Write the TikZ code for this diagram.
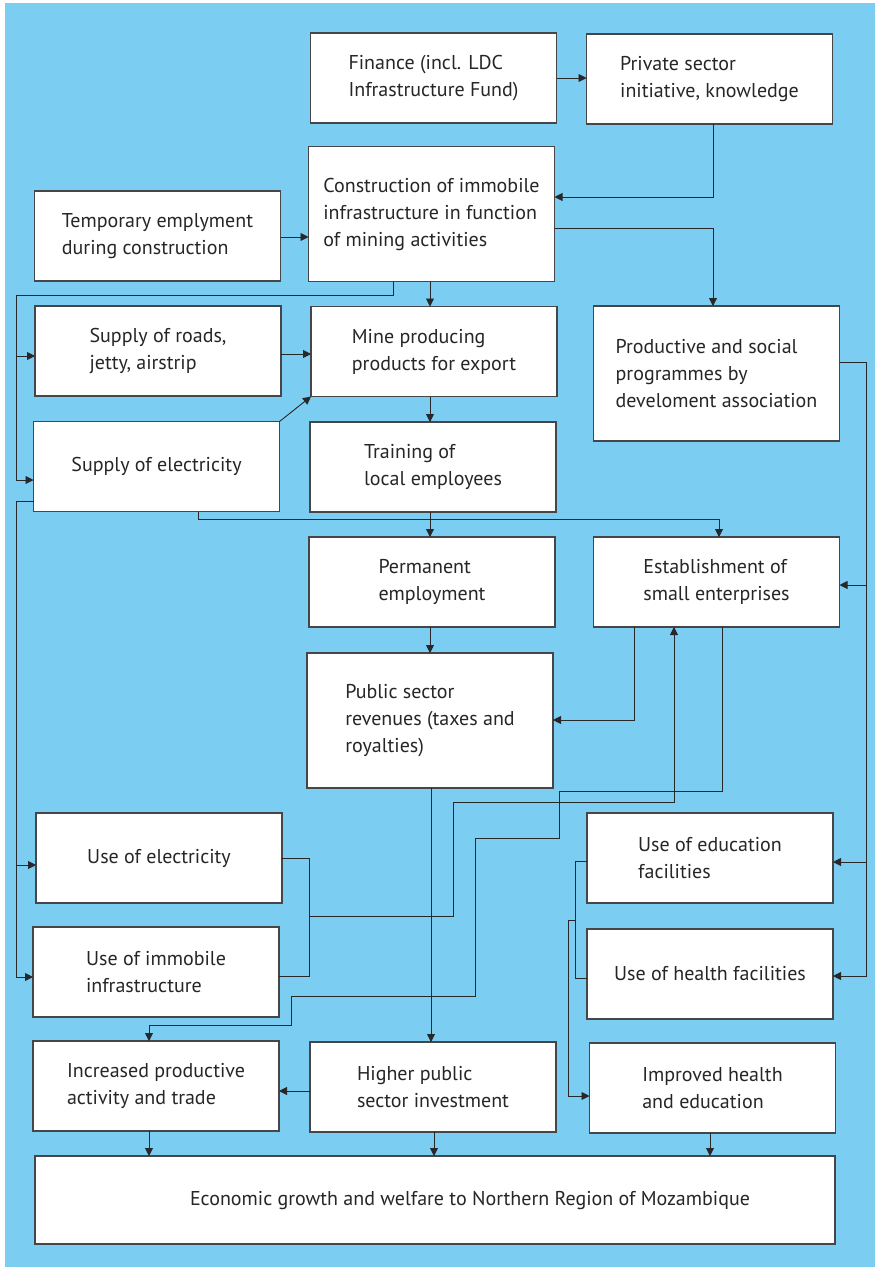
\documentclass[tikz,border=0pt]{standalone}
\usepackage{fontspec}
\setmainfont{PT Sans}
\usetikzlibrary{arrows.meta}
\definecolor{panel}{RGB}{124,205,242}
\definecolor{edge}{RGB}{70,70,72}
\definecolor{wire}{RGB}{40,40,42}
\begin{document}
\begin{tikzpicture}[x=1pt,y=-1pt,
  box/.style={draw=edge,line width=1.1pt,fill=white,inner sep=0pt,outer sep=0pt,
    minimum width=246pt,minimum height=90pt,align=left,
    font=\fontsize{20}{27}\selectfont,text=black!85},
  tall/.style={minimum height=135pt},
  arr/.style={draw=wire,line width=0.9pt,-{Triangle[length=8pt,width=8pt]}},
  ln/.style={draw=wire,line width=0.9pt}]
\useasboundingbox (0,0) rectangle (875,1267);
\fill[white] (0,0) rectangle (875,1267);
\fill[panel] (5,3) rectangle (875,1267);

% boxes
\node[box] (fin)   at (433.5,78)  {Finance (incl. LDC\\Infrastructure Fund)};
\node[box] (priv)  at (709.5,79)  {Private sector\\initiative, knowledge};
\node[box,tall] (cons) at (431.5,214) {Construction of immobile\\infrastructure in function\\of mining activities};
\node[box] (temp)  at (157.5,236) {Temporary emplyment\\during construction};
\node[box] (roads) at (158,351)   {Supply of roads,\\jetty, airstrip};
\node[box] (mine)  at (434,351.5) {Mine producing\\products for export};
\node[box,tall] (prod) at (716.5,373.5) {Productive and social\\programmes by\\develoment association};
\node[box] (elec)  at (156.5,466.5) {Supply of electricity};
\node[box] (train) at (433,467)   {Training of\\local employees};
\node[box] (perm)  at (432,582)   {Permanent\\employment};
\node[box] (estab) at (716.5,582) {Establishment of\\small enterprises};
\node[box,tall] (pub) at (430,720.5) {Public sector\\revenues (taxes and\\royalties)};
\node[box] (useel) at (159,858)   {Use of electricity};
\node[box] (useed) at (710,858)   {Use of education\\facilities};
\node[box] (useim) at (156,972)   {Use of immobile\\infrastructure};
\node[box] (useh)  at (710,974)   {Use of health facilities};
\node[box] (incr)  at (156,1086)  {Increased productive\\activity and trade};
\node[box] (high)  at (433,1087)  {Higher public\\sector investment};
\node[box] (impr)  at (712.5,1088) {Improved health\\and education};
\node[box,minimum width=800pt,minimum height=88pt] (econ) at (435,1200)
  {\hspace*{70pt}Economic growth and welfare to Northern Region of Mozambique};

% connectors
\draw[arr] (fin.east) -- (fin.east -| priv.west);
\draw[arr] (priv.south -| 713,0) |- (cons.east |- 0,197);
\draw[arr] (cons.east |- 0,228) -| (prod.north -| 713,0);
\draw[arr] (temp.east |- 0,237) -- (cons.west |- 0,237);
\draw[arr] (cons.south -| 430,0) -- (mine.north -| 430,0);
\draw[arr] (cons.south -| 393,0) |- (16,295) |- (elec.west |- 0,480);
\draw[arr] (16,356) -- (roads.west |- 0,356);
\draw[arr] (roads.east |- 0,354) -- (mine.west |- 0,354);
\draw[arr] (elec.north east) -- (mine.south west);
\draw[arr] (mine.south -| 430,0) -- (train.north -| 430,0);
\draw[arr] (train.south -| 430,0) -- (perm.north -| 430,0);
\draw[arr] (elec.south -| 198,0) |- (719,519) -- (estab.north -| 719,0);
\draw[arr] (perm.south -| 430,0) -- (pub.north -| 430,0);
\draw[arr] (prod.east |- 0,362) -| (866,976) -- (useh.east |- 0,976);
\draw[arr] (866,585) -- (estab.east |- 0,585);
\draw[arr] (866,862) -- (useed.east |- 0,862);
\draw[arr] (estab.south -| 634,0) |- (pub.east |- 0,720);
\draw[ln] (useel.east |- 0,858) -| (309,976) -- (useim.east |- 0,976);
\draw[arr] (309,916) -| (453,802) -| (estab.south -| 674,0);
\draw[arr] (estab.south -| 722,0) |- (559,791) |- (475,838) |- (291,996) |- (149,1025) -- (incr.north -| 149,0);
\draw[arr] (pub.south -| 431,0) -- (high.north -| 431,0);
\draw[arr] (high.west |- 0,1091) -- (incr.east |- 0,1091);
\draw[arr] (elec.west |- 0,501) -| (16,977) -- (useim.west |- 0,977);
\draw[arr] (16,865) -- (useel.west |- 0,865);
\draw[ln] (useed.west |- 0,861) -| (575,978) -- (useh.west |- 0,978);
\draw[arr] (575,920) -| (568,1096) -- (impr.west |- 0,1096);
\draw[arr] (incr.south -| 149,0) -- (econ.north -| 149,0);
\draw[arr] (high.south -| 434,0) -- (econ.north -| 434,0);
\draw[arr] (impr.south -| 710,0) -- (econ.north -| 710,0);
\end{tikzpicture}
\end{document}
